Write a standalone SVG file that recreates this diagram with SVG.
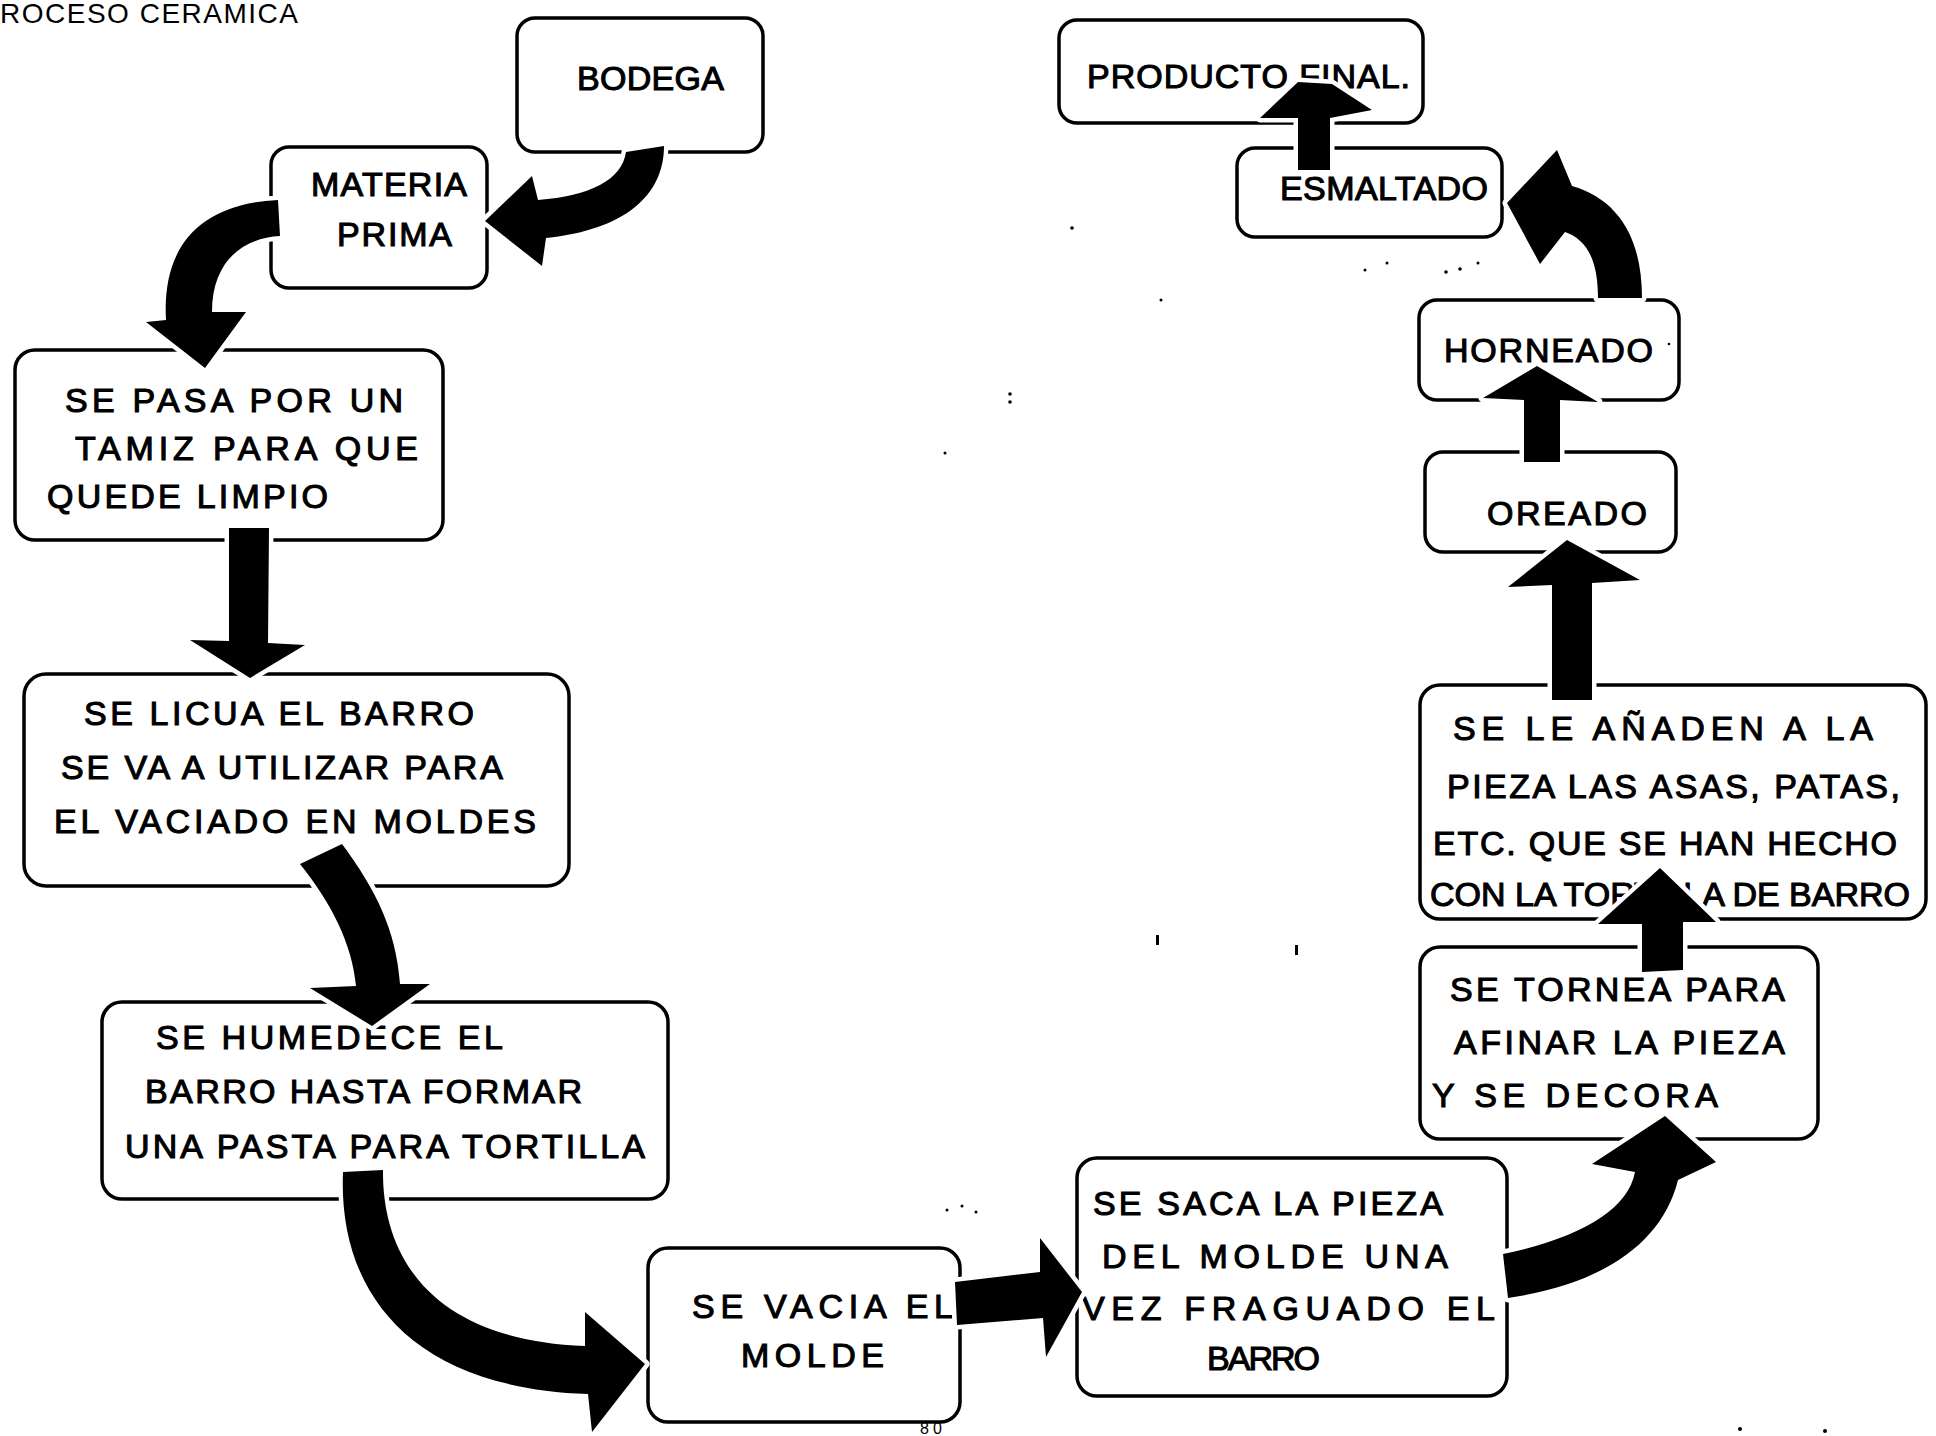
<svg xmlns="http://www.w3.org/2000/svg" width="1936" height="1436" viewBox="0 0 1936 1436">
<style>
.box{fill:#fff;stroke:#000;stroke-width:3.5;stroke-linejoin:round}
.t{font-family:"Liberation Sans",Arial,sans-serif;font-size:34px;fill:#000;stroke:#000;stroke-width:1.1}
.arrow{fill:#000;stroke:#fff;stroke-width:9;stroke-linejoin:round;paint-order:stroke}
.dot{fill:#000}
</style>
<rect width="1936" height="1436" fill="#fff"/>
<text x="0" y="23" font-family="Liberation Sans,Arial,sans-serif" font-size="28" textLength="298" lengthAdjust="spacing">ROCESO CERAMICA</text>

<g id="bodega">
<rect class="box" x="517" y="18" width="246" height="134" rx="18"/>
<text class="t" x="577" y="90" font-size="37" textLength="147" lengthAdjust="spacing">BODEGA</text>
</g>
<g id="materia-prima">
<rect class="box" x="271" y="147" width="216" height="141" rx="18"/>
<text class="t" x="311" y="196" font-size="35" textLength="156" lengthAdjust="spacing">MATERIA</text>
<text class="t" x="337" y="246" font-size="35" textLength="115" lengthAdjust="spacing">PRIMA</text>
</g>
<g id="tamiz">
<rect class="box" x="15" y="350" width="428" height="190" rx="20"/>
<text class="t" x="65" y="412" textLength="338" lengthAdjust="spacing">SE PASA POR UN</text>
<text class="t" x="75" y="460" textLength="343" lengthAdjust="spacing">TAMIZ PARA QUE</text>
<text class="t" x="47" y="508" textLength="281" lengthAdjust="spacing">QUEDE LIMPIO</text>
</g>
<g id="licua">
<rect class="box" x="24" y="674" width="545" height="212" rx="22"/>
<text class="t" x="84" y="725" textLength="390" lengthAdjust="spacing">SE LICUA EL BARRO</text>
<text class="t" x="61" y="779" textLength="442" lengthAdjust="spacing">SE VA A UTILIZAR PARA</text>
<text class="t" x="54" y="833" textLength="482" lengthAdjust="spacing">EL VACIADO EN MOLDES</text>
</g>
<g id="humedece">
<rect class="box" x="102" y="1002" width="566" height="197" rx="20"/>
<text class="t" x="156" y="1049" textLength="347" lengthAdjust="spacing">SE HUMEDECE EL</text>
<text class="t" x="145" y="1103" textLength="437" lengthAdjust="spacing">BARRO HASTA FORMAR</text>
<text class="t" x="125" y="1158" textLength="520" lengthAdjust="spacing">UNA PASTA PARA TORTILLA</text>
</g>
<g id="vacia">
<rect class="box" x="648" y="1248" width="312" height="174" rx="20"/>
<text class="t" x="692" y="1318" textLength="261" lengthAdjust="spacing">SE VACIA EL</text>
<text class="t" x="741" y="1367" textLength="143" lengthAdjust="spacing">MOLDE</text>
</g>
<g id="saca">
<rect class="box" x="1077" y="1158" width="430" height="238" rx="20"/>
<text class="t" x="1093" y="1215" textLength="350" lengthAdjust="spacing">SE SACA LA PIEZA</text>
<text class="t" x="1102" y="1268" textLength="346" lengthAdjust="spacing">DEL MOLDE UNA</text>
<text class="t" x="1082" y="1320" textLength="413" lengthAdjust="spacing">VEZ FRAGUADO EL</text>
<text class="t" x="1207" y="1370" font-size="32" textLength="113" lengthAdjust="spacing">BARRO</text>
</g>
<g id="tornea">
<rect class="box" x="1420" y="947" width="398" height="192" rx="20"/>
<text class="t" x="1450" y="1001" textLength="335" lengthAdjust="spacing">SE TORNEA PARA</text>
<text class="t" x="1454" y="1054" textLength="331" lengthAdjust="spacing">AFINAR LA PIEZA</text>
<text class="t" x="1432" y="1107" textLength="286" lengthAdjust="spacing">Y SE DECORA</text>
</g>
<g id="anaden">
<rect class="box" x="1420" y="685" width="506" height="234" rx="20"/>
<text class="t" x="1453" y="740" textLength="420" lengthAdjust="spacing">SE LE AÑADEN A LA</text>
<text class="t" x="1447" y="798" textLength="453" lengthAdjust="spacing">PIEZA LAS ASAS, PATAS,</text>
<text class="t" x="1433" y="855" textLength="464" lengthAdjust="spacing">ETC. QUE SE HAN HECHO</text>
<text class="t" x="1430" y="906" font-size="32" textLength="480" lengthAdjust="spacing">CON LA TORTILLA DE BARRO</text>
</g>
<g id="oreado">
<rect class="box" x="1425" y="452" width="251" height="100" rx="18"/>
<text class="t" x="1487" y="525" textLength="160" lengthAdjust="spacing">OREADO</text>
</g>
<g id="horneado">
<rect class="box" x="1419" y="300" width="260" height="100" rx="18"/>
<text class="t" x="1444" y="362" textLength="209" lengthAdjust="spacing">HORNEADO</text>
</g>
<g id="esmaltado">
<rect class="box" x="1237" y="148" width="265" height="89" rx="18"/>
<text class="t" x="1280" y="200" font-size="33" textLength="208" lengthAdjust="spacing">ESMALTADO</text>
</g>
<g id="producto-final">
<rect class="box" x="1059" y="20" width="364" height="103" rx="18"/>
<text class="t" x="1087" y="88" textLength="323" lengthAdjust="spacing">PRODUCTO FINAL.</text>
</g>

<g id="connectors">
<path class="arrow" d="M626,152 L664,146 C664,196 624,230 546,238 L542,266 L485,221 L532,176 L538,200 C590,196 622,180 626,152 Z"/>
<path class="arrow" d="M278,200 L280,236 C242,238 212,262 212,312 L246,312 L205,368 L146,322 L166,320 C162,250 196,204 278,200 Z"/>
<path class="arrow" d="M229,528 L269,528 L268,643 L305,645 L250,678 L190,640 L229,641 Z"/>
<path class="arrow" d="M300,864 L342,844 C376,890 396,930 400,984 L430,984 L372,1026 L310,988 L356,986 C352,944 332,904 300,864 Z"/>
<path class="arrow" d="M343,1172 L383,1170 C382,1258 432,1340 585,1346 L585,1312 L645,1364 L592,1432 L588,1394 C408,1388 338,1290 343,1172 Z"/>
<path class="arrow" d="M955,1282 L1040,1272 L1040,1238 L1082,1292 L1046,1357 L1043,1318 L957,1325 Z"/>
<path class="arrow" d="M1503,1254 C1580,1238 1628,1210 1635,1172 L1592,1164 L1665,1116 L1716,1162 L1678,1180 C1662,1244 1602,1284 1508,1298 Z"/>
<path class="arrow" d="M1642,972 L1683,970 L1683,922 L1716,922 L1660,868 L1598,924 L1642,924 Z"/>
<path class="arrow" d="M1552,700 L1592,700 L1592,583 L1640,580 L1567,540 L1508,587 L1552,585 Z"/>
<path class="arrow" d="M1524,462 L1560,462 L1560,400 L1598,402 L1537,366 L1483,398 L1524,400 Z"/>
<path class="arrow" d="M1598,298 L1642,298 C1642,240 1620,200 1572,186 L1557,150 L1507,203 L1540,264 L1565,232 C1588,240 1598,262 1598,298 Z"/>
<path class="arrow" d="M1298,170 L1330,170 L1330,118 L1372,110 L1332,84 L1298,82 L1260,118 L1298,118 Z"/>
</g>

<g id="specks">
<circle class="dot" cx="1010" cy="394" r="1.8"/>
<circle class="dot" cx="1010" cy="402" r="1.8"/>
<circle class="dot" cx="945" cy="453" r="1.5"/>
<circle class="dot" cx="1161" cy="300" r="1.5"/>
<rect class="dot" x="1156" y="935" width="3" height="10"/>
<rect class="dot" x="1295" y="945" width="3" height="10"/>
<circle class="dot" cx="947" cy="1210" r="1.5"/>
<circle class="dot" cx="962" cy="1206" r="1.5"/>
<circle class="dot" cx="976" cy="1212" r="1.5"/>
<circle class="dot" cx="1072" cy="228" r="1.8"/>
<circle class="dot" cx="1365" cy="270" r="1.5"/>
<circle class="dot" cx="1387" cy="263" r="1.5"/>
<circle class="dot" cx="1446" cy="272" r="1.8"/>
<circle class="dot" cx="1460" cy="269" r="1.8"/>
<circle class="dot" cx="1478" cy="263" r="1.5"/>
<circle class="dot" cx="1669" cy="344" r="1.3"/>
<circle class="dot" cx="1740" cy="1429" r="2"/>
<circle class="dot" cx="1825" cy="1431" r="2"/>
</g>
<text x="920" y="1434" font-family="Liberation Sans,Arial,sans-serif" font-size="16" textLength="22" lengthAdjust="spacing">80</text>
</svg>
